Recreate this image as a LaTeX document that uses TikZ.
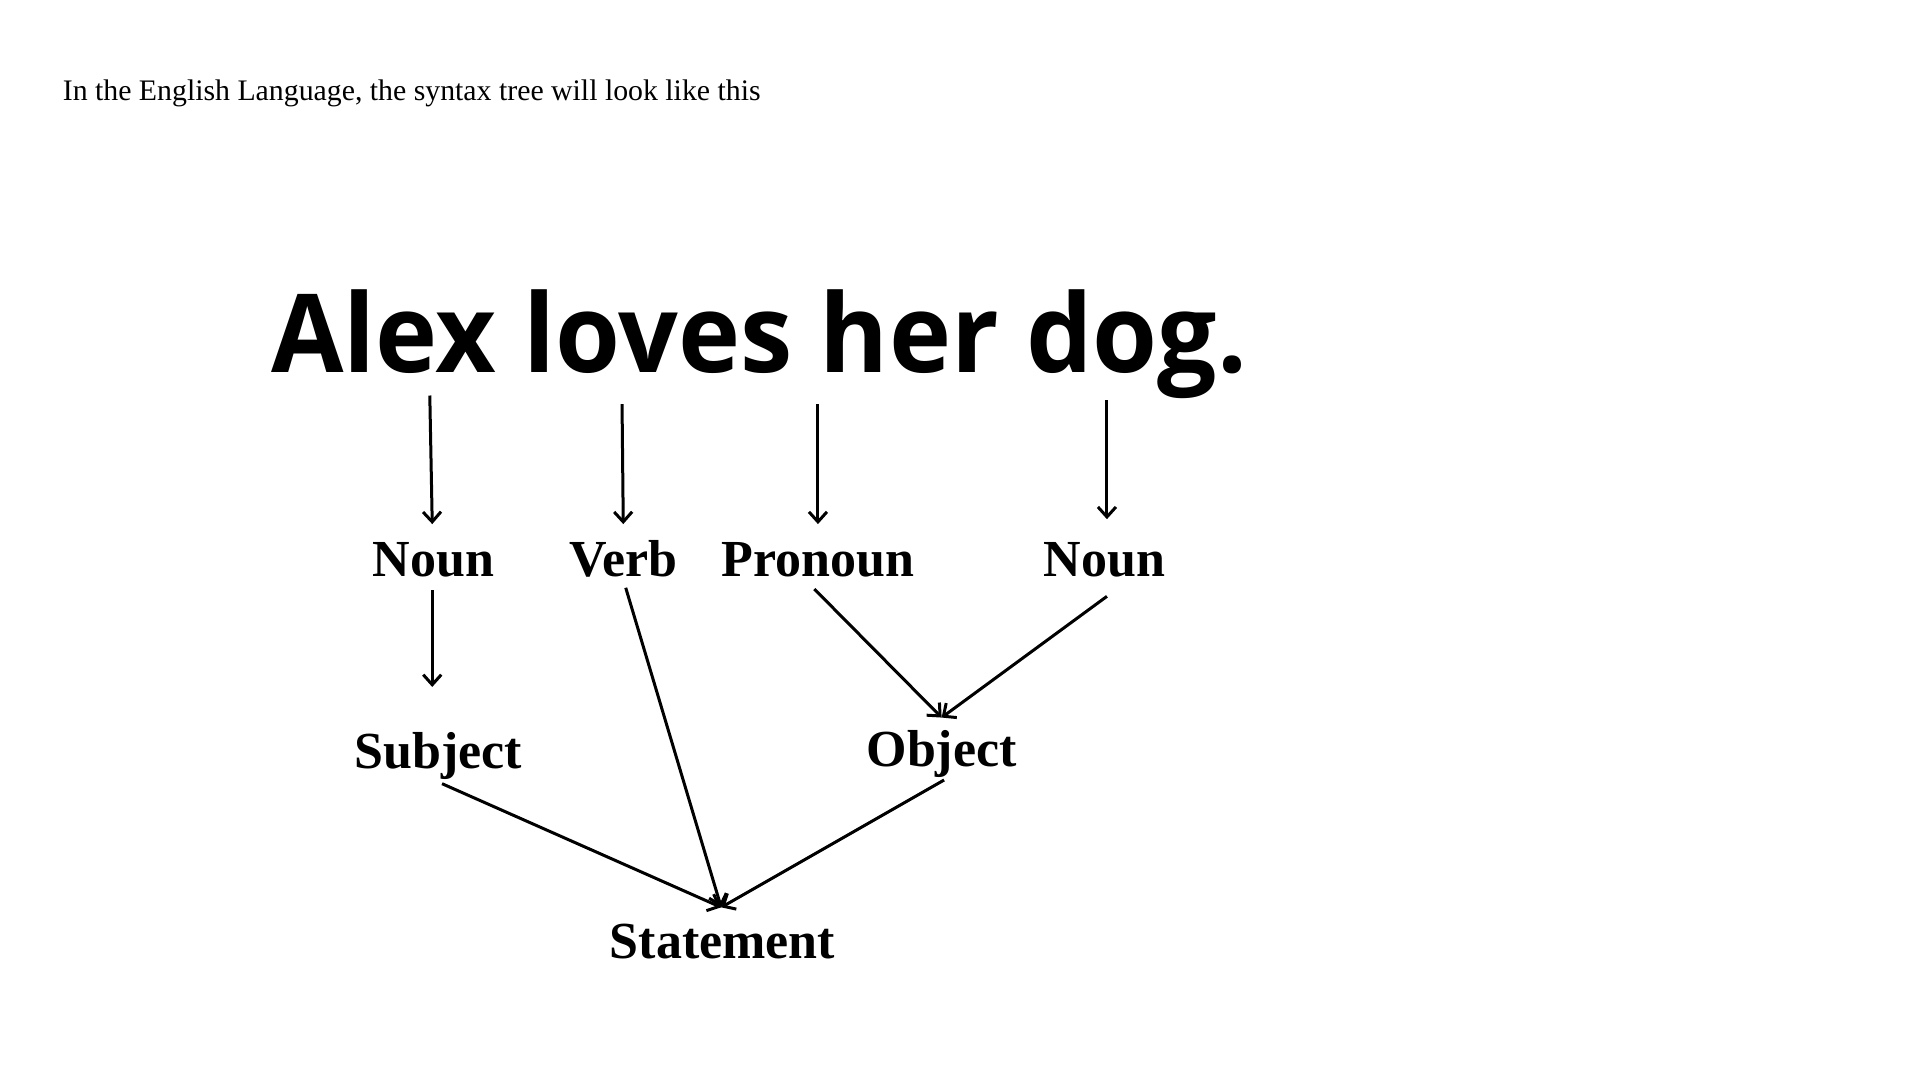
\documentclass[tikz,border=0pt]{standalone}
\usepackage{fontspec}
\setmainfont{Liberation Serif}
\newfontfamily\titlefont{Open Sans}
\usetikzlibrary{arrows.meta}
\tikzset{
  lbl/.style={anchor=base, inner sep=0pt, font=\bfseries\fontsize{26}{30}\selectfont},
  arr/.style={line width=1.5pt, -{Straight Barb[length=5pt,width=9pt,line width=1.5pt]}},
}
\begin{document}
\begin{tikzpicture}[x=0.6122pt,y=-0.6122pt]
\useasboundingbox (0,0) rectangle (1568,882);
\fill[white] (0,0) rectangle (1568,882);
\node[anchor=base west, inner sep=0pt] (intro) at (51,82) {\fontsize{14.9}{17}\selectfont In the English Language, the syntax tree will look like this};
\node[anchor=base west, inner sep=0pt] (title) at (221,304.5) {\scalebox{0.964}[1]{\titlefont\bfseries\fontsize{54.5}{60}\selectfont Alex loves her dog.}};
\node[lbl] (noun1) at (354,471) {Noun};
\node[lbl] (verb) at (509,471) {Verb};
\node[lbl] (pronoun) at (668,471) {Pronoun};
\node[lbl] (noun2) at (902,471) {Noun};
\node[lbl] (subject) at (358,628) {Subject};
\node[lbl] (object) at (769,626) {Object};
\node[lbl] (statement) at (590,783) {Statement};
% connector ends
\coordinate (w1) at (351,323);
\coordinate (w2) at (508,330);
\coordinate (w3) at (668,330);
\coordinate (w4) at (904,327);
\coordinate (n1t) at (353,428);
\coordinate (vt) at (509,428);
\coordinate (pt) at (668,428);
\coordinate (n2t) at (904,424);
\coordinate (n1b) at (353,482);
\coordinate (sjt) at (353,561);
\coordinate (vb) at (511,480);
\coordinate (pb) at (665,481);
\coordinate (n2b) at (904,487);
\coordinate (ot) at (769,586);
\coordinate (sb) at (361,640);
\coordinate (ob) at (771,637);
\coordinate (st) at (589,741);
\draw[arr] (w1) -- (n1t);
\draw[arr] (w2) -- (vt);
\draw[arr] (w3) -- (pt);
\draw[arr] (w4) -- (n2t);
\draw[arr] (n1b) -- (sjt);
\draw[arr] (pb) -- (ot);
\draw[arr] (n2b) -- (ot);
\draw[arr] (vb) -- (st);
\draw[arr] (sb) -- (st);
\draw[arr] (ob) -- (st);
\end{tikzpicture}
\end{document}
